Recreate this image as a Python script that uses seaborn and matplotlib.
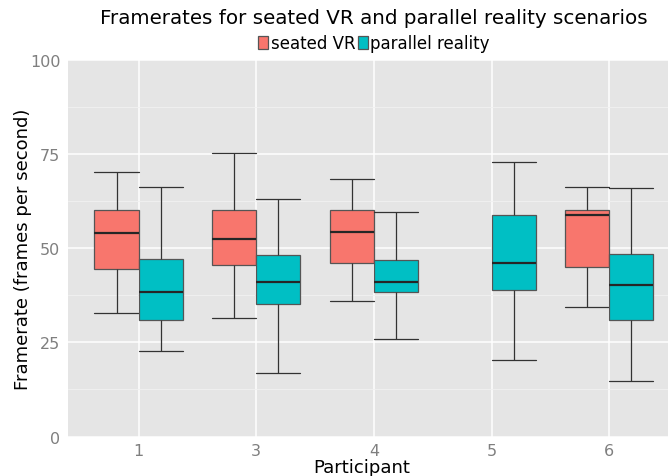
import pandas as pd
import seaborn as sns
from matplotlib import pyplot as plt
from matplotlib.ticker import MultipleLocator

"""
Framerates per participant: seated VR vs parallel reality.
Each row below is read off the reference boxplot as
[lower whisker, Q1, median, Q3, upper whisker].
"""

participants = ["1", "3", "4", "5", "6"]
conditions = ["seated VR", "parallel reality"]
colors = ["#F8766D", "#00BFC4"]

seated_vr = [
    [32.8, 44.6, 54.1, 60.1, 70.2],   # 1
    [31.4, 45.5, 52.4, 60.1, 75.4],   # 3
    [35.9, 46.1, 54.4, 60.2, 68.4],   # 4
    None,                             # 5 (no seated run)
    [34.5, 44.9, 58.7, 60.1, 66.3],   # 6
]
parallel_reality = [
    [22.8, 30.9, 38.4, 47.1, 66.4],
    [16.9, 35.3, 41.1, 48.1, 63.0],
    [26.0, 38.4, 41.1, 46.9, 59.5],
    [20.2, 38.9, 46.0, 58.9, 72.9],
    [14.8, 31.0, 40.2, 48.5, 66.0],
]

rows = []
for cond, series in zip(conditions, [seated_vr, parallel_reality]):
    for p, vals in zip(participants, series):
        if vals is None:
            continue
        for v in vals:
            rows.append({"participant": p, "condition": cond, "fps": v})
df = pd.DataFrame(rows)

sns.set_theme(style="darkgrid", rc={
    "axes.facecolor": "#E5E5E5",
    "grid.color": "white",
    "axes.edgecolor": "#E5E5E5",
})
plt.rcParams["font.family"] = ["DejaVu Sans"]

fig = plt.figure(figsize=(6.68, 4.77), dpi=100)
ax = fig.add_axes([68 / 668, 1 - 437.5 / 477, 600 / 668, 376.5 / 477])

sns.boxplot(data=df, x="participant", y="fps", hue="condition",
            order=participants, hue_order=conditions, palette=colors,
            width=0.75, gap=0, dodge=True, whis=1.5,
            linecolor="#333333", linewidth=0.9, fliersize=0,
            capwidths=0.375, saturation=1,
            boxprops={"edgecolor": "#555555"},
            medianprops={"color": "#262626", "linewidth": 1.6},
            ax=ax)

ax.set_xlim(-0.6, 4.5)
ax.set_ylim(0, 100)
ax.set_yticks([0, 25, 50, 75, 100])
ax.yaxis.set_minor_locator(MultipleLocator(12.5))
ax.grid(which="major", color="white", linewidth=1.1)
ax.grid(which="minor", axis="y", color="#F2F2F2", linewidth=0.6)
ax.set_axisbelow(True)
for s in ax.spines.values():
    s.set_visible(False)

ax.tick_params(axis="both", which="major", length=4, width=0.8, color="#7F7F7F",
               labelcolor="#7F7F7F", labelsize=11.5)
ax.tick_params(axis="x", pad=1)
ax.tick_params(axis="y", pad=1.5)
ax.tick_params(axis="both", which="minor", length=0)

ax.set_xlabel("Participant", fontsize=13, color="black", va="baseline")
ax.xaxis.set_label_coords(0.5 - 6 / 600, (437.5 - 473) / 376.5)
ax.set_ylabel("Framerate (frames per second)", fontsize=13, color="black", va="center")
ax.yaxis.set_label_coords((23 - 68) / 600, 0.5)

fig.suptitle("Framerates for seated VR and parallel reality scenarios",
             x=374 / 668, y=1 - 18 / 477, va="center", fontsize=14.3, color="black")

handles, labels = ax.get_legend_handles_labels()
ax.legend_.remove()
fig.legend(handles, labels, loc="center", bbox_to_anchor=(374 / 668, 1 - 44 / 477),
           ncol=2, frameon=False, fontsize=12, handlelength=0.6, handleheight=0.8,
           handletextpad=0.15, columnspacing=0.15, borderpad=0, labelcolor="black")

plt.savefig("out.png", dpi=100)
plt.close()
